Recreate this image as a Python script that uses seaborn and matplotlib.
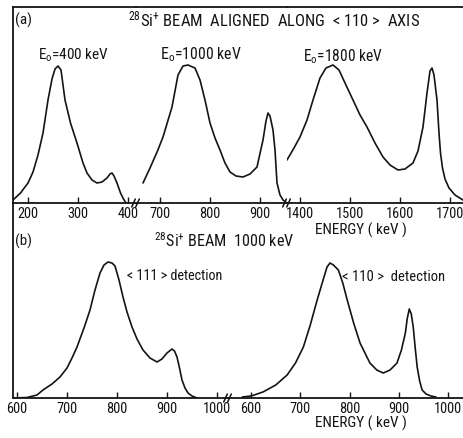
import matplotlib
matplotlib.use("Agg")
import matplotlib.pyplot as plt
from matplotlib import font_manager as fm
from matplotlib.lines import Line2D
import pandas as pd
import seaborn as sns

# ---- spectra (yield in arbitrary units vs. energy in keV) ----
# (a) 28Si+ beam aligned along <110>, three incident energies
a400_energy = [170, 185, 200, 210, 220, 230, 240, 248, 254, 260, 266, 274, 285, 298,
               310, 318, 328, 338, 348, 358, 364, 368, 372, 378, 385, 391, 396]
a400_yield = [3, 10, 20, 31, 48, 70, 103, 124, 134, 137, 133, 103, 80, 60,
              40, 30, 23, 20, 21, 25, 29, 30, 27, 20, 10, 4, 0]

a1000_energy = [666, 680, 695, 706, 724, 736, 746, 756, 770, 780, 790, 800, 810, 820,
                830, 840, 852, 866, 880, 894, 906, 912, 916, 920, 926, 930, 934, 940,
                946, 954]
a1000_yield = [20, 35, 52, 66, 96, 128, 137, 138, 135, 123, 103, 80, 65, 53,
               40, 31, 27, 26, 29, 36, 63, 82, 90, 87, 73, 53, 20, 8,
               3, 0]

a1800_energy = [1374, 1388, 1400, 1414, 1426, 1440, 1452, 1466, 1478, 1490, 1506, 1520,
                1534, 1550, 1566, 1580, 1596, 1610, 1626, 1636, 1646, 1654, 1660, 1664,
                1668, 1674, 1678, 1681, 1685, 1690, 1698, 1710, 1726]
a1800_yield = [43, 55, 66, 83, 103, 125, 135, 138, 133, 120, 103, 88,
               76, 60, 46, 38, 33, 34, 40, 52, 76, 110, 132, 135,
               128, 103, 70, 50, 35, 24, 15, 8, 3]

# (b) 28Si+ beam at 1000 keV, two detection directions
b111_energy = [592, 620, 640, 652, 670, 686, 700, 710, 720, 734, 746, 756, 766, 774,
               782, 790, 796, 804, 812, 820, 830, 840, 852, 866, 880, 890, 900, 910,
               915, 920, 925, 930, 936, 942, 950, 960]
b111_yield = [0, 0.5, 3, 8, 14, 21, 30, 40, 51, 70, 88, 108, 125, 133,
              136, 135, 132, 118, 101, 86, 71, 59, 48, 40, 36, 39, 45, 49,
              47, 41, 30, 18, 10, 5, 2, 0]

b110_energy = [582, 600, 624, 650, 673, 690, 706, 720, 734, 746, 754, 760, 767, 777,
               786, 795, 808, 821, 841, 855, 868, 882, 896, 905, 913, 917, 921, 925,
               929, 933, 937, 942, 947, 955, 965, 975]
b110_yield = [1, 2, 6, 13, 23, 35, 51, 73, 98, 118, 131, 135, 133, 128,
              115, 98, 75, 55, 35, 28, 25, 28, 35, 48, 65, 80, 89, 84,
              71, 50, 31, 17, 8, 4, 2, 1]

a_ticks = [[200, 300, 400], [700, 800, 900], [1400, 1500, 1600, 1700]]
b_ticks = [[600, 700, 800, 900, 1000], [600, 700, 800, 900, 1000]]


# ---- styling ----
def pick_narrow_font():
    """Prefer a condensed sans face; fall back to Liberation Sans."""
    entries = fm.fontManager.ttflist
    names = {e.name for e in entries}
    for name in ("Liberation Sans Narrow", "Arial Narrow", "Roboto Condensed",
                 "Open Sans Condensed", "DejaVu Sans Condensed", "Noto Sans Condensed"):
        if name in names:
            return name, "normal"
    for e in entries:
        if (e.stretch in ("condensed", "semi-condensed") and e.style == "normal"
                and e.weight in (400, "normal", "regular")):
            return e.name, e.stretch
    return "Liberation Sans", "normal"


FONT, STRETCH = pick_narrow_font()

sns.set_theme(style="white")
plt.rcParams["font.family"] = [FONT, "DejaVu Sans"]
plt.rcParams["font.stretch"] = STRETCH
plt.rcParams["mathtext.fontset"] = "custom"
plt.rcParams["mathtext.rm"] = f"{FONT}:stretch={STRETCH}"
plt.rcParams["mathtext.it"] = f"{FONT}:stretch={STRETCH}"

W, H = 463, 438
fig = plt.figure(figsize=(W / 100, H / 100), dpi=100)
fig.patch.set_facecolor("white")
INK = "#141414"


def fx(x):
    return x / W


def fy(y):
    return 1 - y / H


axes = []


def segment(x0, x1, y_top, y_bot, xlim, ylim, ticks, energy, yld,
            left=False, top=False):
    ax = fig.add_axes([fx(x0), fy(y_bot), (x1 - x0) / W, (y_bot - y_top) / H])
    ax.set_facecolor("none")
    df = pd.DataFrame({"energy": energy, "yield": yld})
    sns.lineplot(data=df, x="energy", y="yield", ax=ax, color=INK,
                 linewidth=1.2, estimator=None)
    ax.set_xlim(*xlim)
    ax.set_ylim(*ylim)
    ax.set_xticks(ticks)
    ax.set_xticklabels([str(t) for t in ticks])
    ax.set_yticks([])
    ax.set_xlabel("")
    ax.set_ylabel("")
    for side, on in (("left", left), ("top", top), ("right", False), ("bottom", True)):
        ax.spines[side].set_visible(on)
        ax.spines[side].set_color(INK)
        ax.spines[side].set_linewidth(1.3)
    ax.tick_params(axis="x", direction="in", length=4, width=1.0, color=INK,
                   pad=3, labelsize=10, labelcolor=INK, bottom=True)
    axes.append(ax)
    return ax


# panel (a): three broken-axis segments
segment(13, 136, 7, 203, (170, 416), (0, 196), a_ticks[0], a400_energy, a400_yield,
        left=True, top=True)
segment(136, 287, 7, 203, (652, 954), (0, 196), a_ticks[1], a1000_energy, a1000_yield,
        top=True)
segment(287, 463, 7, 203, (1374, 1726), (0, 196), a_ticks[2], a1800_energy, a1800_yield,
        top=True)

# panel (b): two broken-axis segments
segment(13, 228, 203, 398, (592, 1022), (0, 195), b_ticks[0], b111_energy, b111_yield,
        left=True)
segment(228, 463, 203, 398, (553, 1030), (0, 195), b_ticks[1], b110_energy, b110_yield)


# axis-break marks "//"
def break_mark(xc, yc):
    for dx in (-2.5, 1.5):
        fig.add_artist(Line2D([fx(xc + dx - 1.8), fx(xc + dx + 1.8)],
                              [fy(yc + 4), fy(yc - 4)],
                              transform=fig.transFigure, color=INK, lw=1.1))


break_mark(136, 203)
break_mark(287, 203)
break_mark(228, 398)

# annotations: (x centre, y centre, text, printed width in px)
labels = []


def label(x, y, s, width, size=11):
    t = fig.text(fx(x), fy(y), s, ha="center", va="center", fontsize=size, color=INK)
    labels.append((t, width))


label(24, 20, "(a)", 17)
label(274, 19, r"$^{28}$Si$^{+}$ BEAM  ALIGNED  ALONG  < 110 >  AXIS", 292)
label(74, 55, r"E$_{\mathregular{o}}$=400 keV", 71)
label(201, 55, r"E$_{\mathregular{o}}$=1000 keV", 82)
label(343, 57, r"E$_{\mathregular{o}}$=1800 keV", 80)
label(361, 230, "ENERGY ( keV )", 92)

label(24, 241, "(b)", 17)
label(224, 241, r"$^{28}$Si$^{+}$ BEAM  1000 keV", 140)
label(175, 276, "< 111 > detection", 96)
label(394, 277, "< 110 >  detection", 102)
label(361, 423, "ENERGY ( keV )", 92)

# size the lettering so each string spans its printed width
fig.canvas.draw()
renderer = fig.canvas.get_renderer()
for t, w in labels:
    bb = t.get_window_extent(renderer)
    t.set_fontsize(t.get_fontsize() * w / bb.width)

probe = axes[0].get_xticklabels()[0]
tick_size = probe.get_fontsize() * 21.0 / probe.get_window_extent(renderer).width
for ax in axes:
    ax.tick_params(axis="x", labelsize=tick_size)

fig.savefig("out.png", dpi=100, facecolor="white")
